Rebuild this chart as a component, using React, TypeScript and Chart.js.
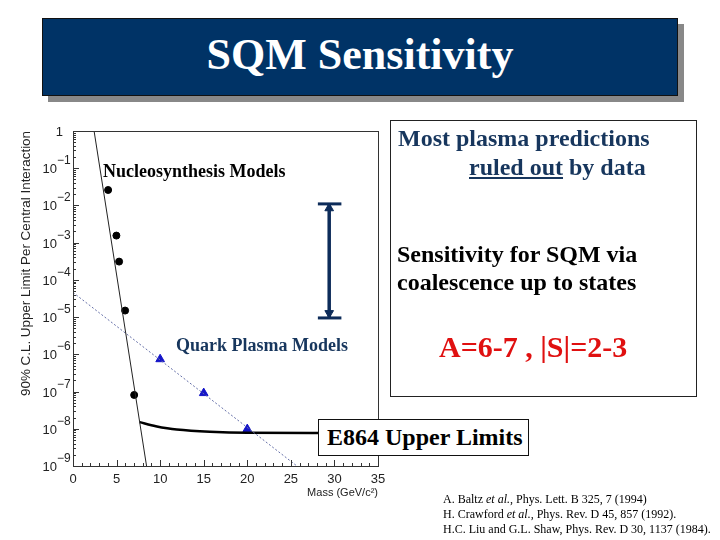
import React, { useEffect, useRef } from "react";
import { Chart, registerables } from "chart.js";

Chart.register(...registerables);

// ---- data ----
const massTicks = [0, 5, 10, 15, 20, 25, 30, 35];
const massTickLabels = ["0", "5", "10", "15", "20", "25", "30", "35"];
const yTickValues = [1, 1e-1, 1e-2, 1e-3, 1e-4, 1e-5, 1e-6, 1e-7, 1e-8, 1e-9];
const yTickBase = ["1", "10", "10", "10", "10", "10", "10", "10", "10", "10"];
const yTickExp = ["", "−1", "−2", "−3", "−4", "−5", "−6", "−7", "−8", "−9"];

const nucleoLineMass = [2.42, 8.44];
const nucleoLineLimit = [1, 1e-9];
const nucleoDotMass = [4.03, 4.98, 5.29, 5.98, 7.02];
const nucleoDotLimit = [2.6e-2, 1.55e-3, 3.1e-4, 1.5e-5, 8.1e-8];

const quarkLineMass = [0, 25.7];
const quarkLineLimit = [4.6e-5, 1e-9];
const quarkPointMass = [10, 15, 20];
const quarkPointLimit = [7.4e-7, 9.1e-8, 9.8e-9];

const e864Mass = [7.65, 9.5, 11.9, 15.7, 20, 35];
const e864Limit = [1.51e-8, 1.17e-8, 9.5e-9, 8.3e-9, 7.8e-9, 7.8e-9];

const arrowMass = [29.4, 29.4];
const arrowLimit = [1.1e-2, 9.5e-6];
const arrowHeadLimit = [8.4e-3, 1.28e-5];
const capMass = [28.1, 30.8];

const pts = (xs: number[], ys: number[]) => xs.map((x, i) => ({ x, y: ys[i] }));

const innerTicks = {
  id: "innerTicks",
  afterDraw(chart: any) {
    const { ctx, chartArea: a, scales } = chart;
    const x = scales.x;
    const y = scales.y;
    ctx.save();
    ctx.strokeStyle = "#333";
    ctx.lineWidth = 1;
    ctx.strokeRect(Math.round(a.left) + 0.5, Math.round(a.top) + 0.5, Math.round(a.right - a.left), Math.round(a.bottom - a.top));
    ctx.beginPath();
    for (let m = x.min; m <= x.max; m++) {
      const px = Math.round(x.getPixelForValue(m)) + 0.5;
      const len = m % 5 === 0 ? 6 : 3;
      ctx.moveTo(px, a.bottom);
      ctx.lineTo(px, a.bottom - len);
    }
    for (let d = -9; d <= 0; d++) {
      for (let k = 1; k <= 9; k++) {
        const v = k * Math.pow(10, d);
        if (v > 1.0001) break;
        const py = Math.round(y.getPixelForValue(v)) + 0.5;
        const len = k === 1 ? 6 : 3;
        ctx.moveTo(a.left, py);
        ctx.lineTo(a.left + len, py);
      }
    }
    ctx.stroke();

    // y tick labels (base with raised exponent), positioned by the log scale
    ctx.fillStyle = "#222";
    ctx.textBaseline = "alphabetic";
    yTickValues.forEach((v, i) => {
      const py = y.getPixelForValue(v);
      if (!yTickExp[i]) {
        ctx.font = "13px 'Liberation Sans'";
        ctx.textAlign = "right";
        ctx.fillText(yTickBase[i], a.left - 10, py + 5);
      } else {
        ctx.font = "13px 'Liberation Sans'";
        ctx.textAlign = "right";
        ctx.fillText(yTickBase[i], a.left - 16, py + 5);
        ctx.font = "12px 'Liberation Sans'";
        ctx.textAlign = "left";
        ctx.fillText(yTickExp[i], a.left - 16, py - 4);
      }
    });
    ctx.restore();
  },
};

function PlotCanvas() {
  const ref = useRef<HTMLCanvasElement | null>(null);
  useEffect(() => {
    if (!ref.current) return;
    const chart = new Chart(ref.current, {
      type: "scatter",
      data: {
        datasets: [
          {
            data: pts(nucleoLineMass, nucleoLineLimit),
            showLine: true,
            borderColor: "#222",
            borderWidth: 1,
            pointRadius: 0,
          },
          {
            data: pts(quarkLineMass, quarkLineLimit),
            showLine: true,
            borderColor: "#6670a8",
            borderWidth: 1,
            borderDash: [2, 2],
            pointRadius: 0,
          },
          {
            data: pts(e864Mass, e864Limit),
            showLine: true,
            borderColor: "#000",
            borderWidth: 2.5,
            tension: 0.3,
            pointRadius: 0,
          },
          {
            data: pts(nucleoDotMass, nucleoDotLimit),
            backgroundColor: "#000",
            borderColor: "#000",
            pointRadius: 3.5,
            pointStyle: "circle",
          },
          {
            data: pts(quarkPointMass, quarkPointLimit),
            backgroundColor: "#1414c8",
            borderColor: "#1414c8",
            pointRadius: 5,
            pointStyle: "triangle",
          },
          {
            data: pts(arrowMass, arrowLimit),
            showLine: true,
            borderColor: "#0d2c5a",
            borderWidth: 3.5,
            pointRadius: 0,
          },
          {
            data: pts(arrowMass, arrowHeadLimit),
            backgroundColor: "#0d2c5a",
            borderColor: "#0d2c5a",
            pointRadius: 5,
            pointStyle: "triangle",
            rotation: [0, 180],
          } as any,
          {
            data: pts(capMass, [arrowLimit[0], arrowLimit[0]]),
            showLine: true,
            borderColor: "#0d2c5a",
            borderWidth: 3,
            pointRadius: 0,
          },
          {
            data: pts(capMass, [arrowLimit[1], arrowLimit[1]]),
            showLine: true,
            borderColor: "#0d2c5a",
            borderWidth: 3,
            pointRadius: 0,
          },
        ],
      },
      options: {
        responsive: false,
        animation: false,
        layout: { padding: { left: 14, right: 342, top: 131, bottom: 34 } },
        plugins: { legend: { display: false }, tooltip: { enabled: false } },
        scales: {
          x: {
            type: "linear",
            min: 0,
            max: 35,
            afterFit: (s: any) => {
              s.height = 40;
            },
            afterBuildTicks: (s: any) => {
              s.ticks = massTicks.map((v) => ({ value: v }));
            },
            grid: { display: false, drawTicks: false },
            border: { display: false },
            ticks: {
              padding: 6,
              color: "#222",
              font: { family: "Liberation Sans", size: 13 },
              maxRotation: 0,
              callback: (_v: any, i: number) => massTickLabels[i],
            },
            title: {
              display: true,
              text: "Mass (GeV/c²)",
              align: "end",
              color: "#222",
              padding: { top: 0, bottom: 6 },
              font: { family: "Liberation Sans", size: 11 },
            },
          },
          y: {
            type: "logarithmic",
            min: 1e-9,
            max: 1,
            afterFit: (s: any) => {
              s.width = 59;
            },
            afterBuildTicks: (s: any) => {
              s.ticks = yTickValues.map((v) => ({ value: v }));
            },
            grid: { display: false, drawTicks: false },
            border: { display: false },
            ticks: { display: false },
            title: {
              display: true,
              text: "90% C.L. Upper Limit Per Central Interaction",
              align: "end",
              color: "#222",
              padding: { top: 4, bottom: 0 },
              font: { family: "Liberation Sans", size: 13.4 },
            },
          },
        },
      },
      plugins: [innerTicks],
    } as any);
    return () => chart.destroy();
  }, []);
  return <canvas ref={ref} width={720} height={540} style={{ position: "absolute", left: 0, top: 0, width: 720, height: 540 }} />;
}

const serif = "'Liberation Serif', 'Times New Roman', serif";

function Txt(props: { left: number; top: number; size: number; color?: string; children: React.ReactNode; bold?: boolean }) {
  return (
    <div
      style={{
        position: "absolute",
        left: props.left,
        top: props.top,
        fontSize: props.size,
        lineHeight: 1,
        fontFamily: serif,
        fontWeight: props.bold === false ? "normal" : "bold",
        color: props.color || "#000",
        whiteSpace: "nowrap",
      }}
    >
      {props.children}
    </div>
  );
}

export default function App() {
  return (
    <div style={{ position: "fixed", left: 0, top: 0, width: 720, height: 540, background: "#fff", overflow: "hidden" }}>
      <PlotCanvas />
      {/* title banner */}
      <div style={{ position: "absolute", left: 48, top: 24, width: 636, height: 78, background: "#888" }} />
      <div
        style={{
          position: "absolute",
          left: 42,
          top: 18,
          width: 634,
          height: 76,
          background: "#003366",
          border: "1px solid #111",
        }}
      />
      <div
        style={{
          position: "absolute",
          left: 42,
          width: 636,
          top: 33,
          textAlign: "center",
          fontFamily: serif,
          fontWeight: "bold",
          fontSize: 44,
          lineHeight: 1,
          color: "#fff",
          whiteSpace: "nowrap",
        }}
      >
        SQM Sensitivity
      </div>

      {/* in-plot labels */}
      <Txt left={103} top={162} size={18}>Nucleosynthesis Models</Txt>
      <Txt left={176} top={336} size={18} color="#17365d">Quark Plasma Models</Txt>

      {/* right box */}
      <div style={{ position: "absolute", left: 390, top: 120, width: 305, height: 275, border: "1px solid #222" }} />
      <Txt left={398} top={126} size={24} color="#17365d">Most plasma predictions</Txt>
      <Txt left={469} top={155} size={24} color="#17365d">
        <span style={{ textDecoration: "underline" }}>ruled out</span> by data
      </Txt>
      <Txt left={397} top={242} size={24}>Sensitivity for SQM via</Txt>
      <Txt left={397} top={270} size={24}>coalescence up to states</Txt>
      <Txt left={439} top={332} size={30} color="#e01010">A=6-7 , |S|=2-3</Txt>

      {/* E864 box */}
      <div style={{ position: "absolute", left: 318, top: 419, width: 209, height: 35, border: "1.5px solid #111", background: "#fff" }} />
      <Txt left={327} top={425} size={24}>E864 Upper Limits</Txt>

      {/* references */}
      <Txt left={443} top={493} size={12} bold={false}>
        A. Baltz <i>et al.</i>, Phys. Lett. B 325, 7 (1994)
      </Txt>
      <Txt left={443} top={508} size={12} bold={false}>
        H. Crawford <i>et al.</i>, Phys. Rev. D 45, 857 (1992).
      </Txt>
      <Txt left={443} top={523} size={12} bold={false}>
        H.C. Liu and G.L. Shaw, Phys. Rev. D 30, 1137 (1984).
      </Txt>
    </div>
  );
}
